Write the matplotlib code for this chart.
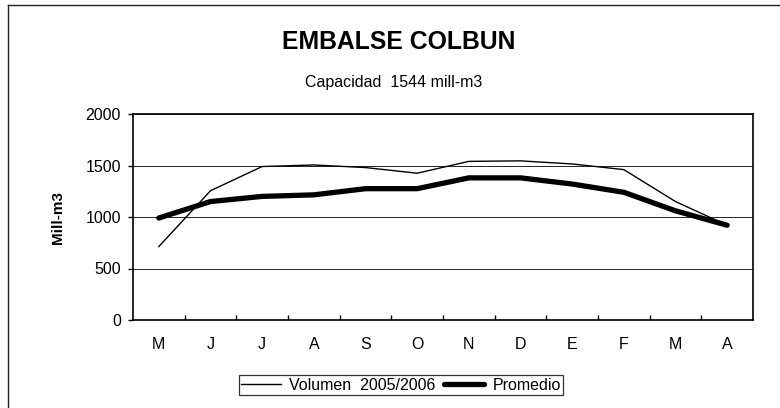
import matplotlib
matplotlib.use("Agg")
import matplotlib.pyplot as plt
from matplotlib.lines import Line2D

plt.rcParams['font.family'] = ['Liberation Sans', 'DejaVu Sans']

months = ["M", "J", "J", "A", "S", "O", "N", "D", "E", "F", "M", "A"]
volumen = [713, 1255, 1490, 1505, 1480, 1425, 1540, 1545, 1515, 1460, 1150, 920]
promedio = [990, 1150, 1200, 1215, 1275, 1275, 1380, 1380, 1320, 1240, 1060, 920]
yticks = [0, 500, 1000, 1500, 2000]

W, H = 780, 408
fig = plt.figure(figsize=(W / 100, H / 100), dpi=100)
# outer chart frame (only top and left edges visible in the crop)
fig.lines.append(Line2D([8 / W, 1.0], [1 - 5 / H, 1 - 5 / H], transform=fig.transFigure,
                        color='#222222', linewidth=1.0))
fig.lines.append(Line2D([8 / W, 8 / W], [0.0, 1 - 5 / H], transform=fig.transFigure,
                        color='#222222', linewidth=1.0))

ax = fig.add_axes([133 / W, 1 - 320 / H, (753 - 133) / W, (320 - 114) / H])

x = list(range(len(months)))
ax.plot(x, volumen, color='black', linewidth=1.0, label='Volumen  2005/2006')
ax.plot(x, promedio, color='black', linewidth=3.8, label='Promedio', solid_capstyle='round')

ax.set_xlim(-0.5, len(months) - 0.5)
ax.set_ylim(0, 2000)
ax.set_yticks(yticks)
ax.set_yticklabels([str(v) for v in yticks], fontsize=11.5)
ax.yaxis.grid(True, color='black', linewidth=0.6)
ax.set_axisbelow(True)
ax.set_xticks([i + 0.5 for i in range(len(months) - 1)])
ax.set_xticklabels([])
ax.set_xticks(x, minor=True)
ax.set_xticklabels(months, minor=True, fontsize=11.5)
ax.tick_params(axis='x', which='minor', length=0, pad=12.5)
ax.tick_params(axis='x', which='major', direction='in', length=3.8, width=1.0)
ax.tick_params(axis='y', direction='out', length=3.8, width=1.0, pad=5)
for s in ax.spines.values():
    s.set_linewidth(1.2)
    s.set_color('black')

ax.set_ylabel('Mill-m3', fontsize=11, fontweight='bold')
ax.yaxis.set_label_coords(-(133 - 65) / (753 - 133), 0.5)

fig.text(399 / W, 1 - 42 / H, 'EMBALSE COLBUN', ha='center', va='center',
         fontsize=17.8, fontweight='bold')
fig.text(394 / W, 1 - 82 / H, 'Capacidad  1544 mill-m3', ha='center', va='center',
         fontsize=11.5)

leg = fig.legend(loc='center', bbox_to_anchor=(401 / W, 1 - 385 / H), ncol=2, frameon=True,
                 fancybox=False, edgecolor='black', fontsize=11.5, handlelength=2.5,
                 handletextpad=0.5, columnspacing=0.55, borderpad=0.15, borderaxespad=0)
leg.get_frame().set_linewidth(0.9)

fig.savefig('out.png', dpi=100)
